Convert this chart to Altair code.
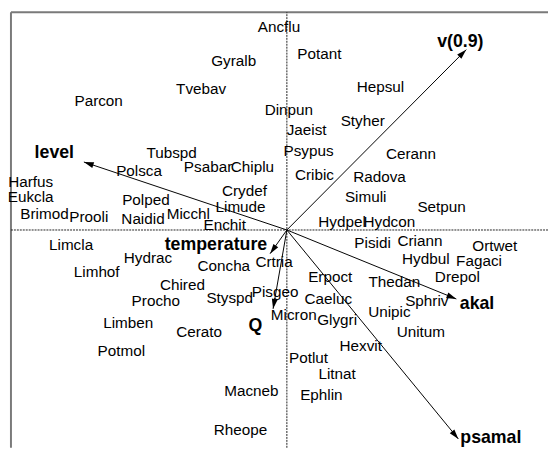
import altair as alt
import numpy as np
import pandas as pd

# Species scores (ordination axis 1, axis 2)
species = ["Ancflu", "Gyralb", "Potant", "Tvebav", "Parcon", "Hepsul", "Dinpun", "Styher",
           "Jaeist", "Psypus", "Cerann", "Tubspd", "Polsca", "Psabar", "Chiplu", "Cribic",
           "Radova", "Harfus", "Crydef", "Simuli", "Eukcla", "Polped", "Setpun", "Limude",
           "Brimod", "Micchl", "Prooli", "Naidid", "Hydpel", "Hydcon", "Enchit", "Limcla",
           "Criann", "Pisidi", "Ortwet", "Hydrac", "Hydbul", "Fagaci", "Crtria", "Concha",
           "Limhof", "Erpoct", "Drepol", "Thedan", "Chired", "Pisgeo", "Styspd", "Caeluc",
           "Procho", "Sphriv", "Unipic", "Micron", "Glygri", "Limben", "Cerato", "Unitum",
           "Hexvit", "Potmol", "Potlut", "Litnat", "Macneb", "Ephlin", "Rheope"]
sp_x = [-0.08, -0.54, 0.33, -0.87, -1.91, 0.95, 0.02, 0.77,
        0.20, 0.22, 1.26, -1.17, -1.50, -0.80, -0.35, 0.28,
        0.94, -2.60, -0.43, 0.80, -2.60, -1.43, 1.57, -0.47,
        -2.46, -1.00, -2.01, -1.46, 0.56, 1.04, -0.63, -2.19,
        1.35, 0.87, 2.11, -1.41, 1.41, 1.95, -0.13, -0.64,
        -1.93, 0.44, 1.73, 1.09, -1.06, -0.12, -0.58, 0.42,
        -1.33, 1.42, 1.04, 0.07, 0.51, -1.61, -0.89, 1.36,
        0.75, -1.68, 0.22, 0.51, -0.36, 0.35, -0.47]
sp_y = [2.06, 1.71, 1.79, 1.43, 1.31, 1.45, 1.22, 1.11,
        1.01, 0.80, 0.77, 0.78, 0.60, 0.64, 0.64, 0.56,
        0.54, 0.49, 0.39, 0.33, 0.33, 0.30, 0.23, 0.23,
        0.16, 0.16, 0.13, 0.11, 0.08, 0.08, 0.05, -0.15,
        -0.11, -0.13, -0.16, -0.28, -0.30, -0.32, -0.33, -0.37,
        -0.43, -0.48, -0.48, -0.53, -0.56, -0.63, -0.69, -0.70,
        -0.72, -0.72, -0.83, -0.86, -0.91, -0.94, -1.04, -1.04,
        -1.18, -1.23, -1.30, -1.46, -1.63, -1.68, -2.03]

# Environmental variables (biplot arrows)
env = ["level", "v(0.9)", "temperature", "Q", "akal", "psamal"]
env_x = [-2.06, 1.82, -0.17, -0.14, 1.72, 1.74]
env_y = [0.69, 1.83, -0.24, -0.80, -0.70, -2.12]
env_lab_x = [-2.36, 1.76, -0.72, -0.32, 1.93, 2.07]
env_lab_y = [0.78, 1.91, -0.15, -0.98, -0.75, -2.11]

X_DOM = [-2.83, 2.65]
Y_DOM = [-2.21, 2.22]
xs = alt.Scale(domain=X_DOM, nice=False, zero=False)
ys = alt.Scale(domain=Y_DOM, nice=False, zero=False)

sp = pd.DataFrame({"name": species, "x": sp_x, "y": sp_y})
ev = pd.DataFrame({"name": env, "x": env_x, "y": env_y,
                   "lx": env_lab_x, "ly": env_lab_y})
ev["ox"] = 0.0
ev["oy"] = 0.0
ev["ang"] = (np.degrees(np.arctan2(ev["x"], ev["y"])) + 360) % 360

# frame and reference lines
frame = pd.DataFrame({
    "kind": ["left", "top"],
    "x": [-2.80, -2.80], "x2": [-2.80, 2.65],
    "y": [-2.21, 2.21], "y2": [2.21, 2.21],
})
ref = pd.DataFrame({
    "kind": ["v", "h"],
    "x": [0.0, -2.80], "x2": [0.0, 2.65],
    "y": [-2.21, 0.0], "y2": [2.21, 0.0],
})

border = alt.Chart(frame).mark_rule(color="#7a7a7a", strokeWidth=2).encode(
    x=alt.X("x:Q", scale=xs, axis=None), x2="x2:Q",
    y=alt.Y("y:Q", scale=ys, axis=None), y2="y2:Q")

dashes = alt.Chart(ref).mark_rule(color="#222222", strokeWidth=1, strokeDash=[2, 1]).encode(
    x=alt.X("x:Q", scale=xs, axis=None), x2="x2:Q",
    y=alt.Y("y:Q", scale=ys, axis=None), y2="y2:Q")

arrows = alt.Chart(ev).mark_rule(color="black", strokeWidth=1).encode(
    x=alt.X("ox:Q", scale=xs, axis=None), x2="x:Q",
    y=alt.Y("oy:Q", scale=ys, axis=None), y2="y:Q")

heads = alt.Chart(ev).mark_point(
    shape="M0,0 L-0.6,2 L0.6,2 Z", filled=True, color="black",
    size=100, opacity=1, strokeWidth=0).encode(
    x=alt.X("x:Q", scale=xs, axis=None),
    y=alt.Y("y:Q", scale=ys, axis=None),
    angle=alt.Angle("ang:Q", scale=None))

sp_text = alt.Chart(sp).mark_text(
    font="Liberation Sans", fontSize=15.5, color="black",
    align="center", baseline="middle").encode(
    x=alt.X("x:Q", scale=xs, axis=None),
    y=alt.Y("y:Q", scale=ys, axis=None),
    text="name:N")

env_text = alt.Chart(ev).mark_text(
    font="Liberation Sans", fontSize=18, fontWeight="bold", color="black",
    align="center", baseline="middle").encode(
    x=alt.X("lx:Q", scale=xs, axis=None),
    y=alt.Y("ly:Q", scale=ys, axis=None),
    text="name:N")

chart = alt.layer(border, dashes, arrows, heads, sp_text, env_text).properties(
    width=548, height=443,
    autosize=alt.AutoSizeParams(type="none"),
    padding=0,
    background="white",
).configure_view(stroke=None)

chart.save("out.html", embed_options={"renderer": "svg", "actions": False})
